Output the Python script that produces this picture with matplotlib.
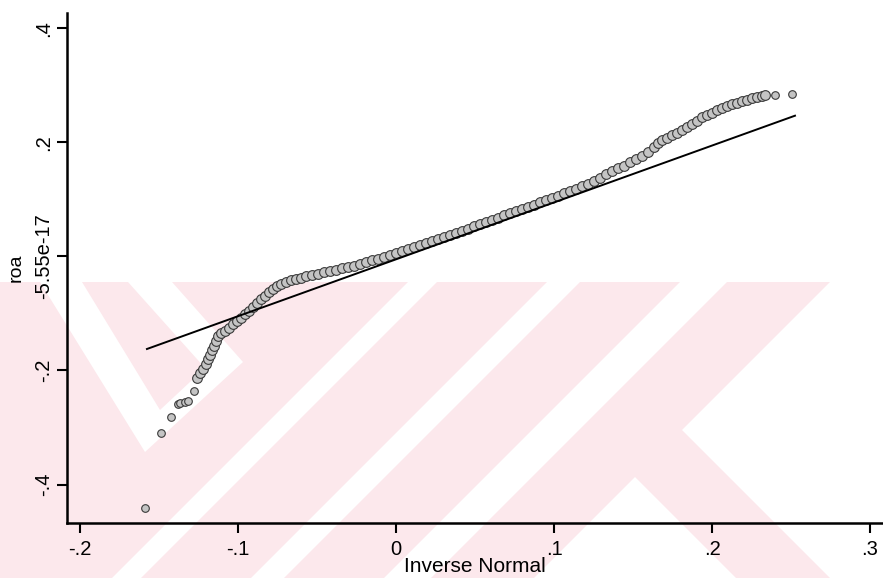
import matplotlib
matplotlib.use('Agg')
import matplotlib.pyplot as plt
from matplotlib.patches import Polygon

plt.rcParams['font.family'] = ['Liberation Sans', 'DejaVu Sans']

# lower tail, single points (inverse normal, roa)
tail_x = [-0.1589, -0.1487, -0.1426, -0.1382, -0.1367, -0.1335, -0.1315, -0.1277]
tail_y = [-0.4415, -0.3101, -0.2810, -0.2592, -0.2575, -0.2547, -0.2529, -0.2354]

# dense band of quantiles
band_x = [-0.1259, -0.1241, -0.1222, -0.1203, -0.1190, -0.1177, -0.1165, -0.1152, -0.1139, -0.1127,
          -0.1108, -0.1082, -0.1057, -0.1032, -0.1006, -0.0981, -0.0956, -0.0930, -0.0905, -0.0880,
          -0.0854, -0.0829, -0.0804, -0.0778, -0.0753, -0.0728, -0.0696, -0.0665, -0.0633, -0.0601,
          -0.0570, -0.0532, -0.0494, -0.0456, -0.0418, -0.0380, -0.0342, -0.0304, -0.0266, -0.0228,
          -0.0190, -0.0152, -0.0114, -0.0076, -0.0038, 0.0000, 0.0038, 0.0076, 0.0114, 0.0152,
          0.0190, 0.0228, 0.0266, 0.0304, 0.0342, 0.0380, 0.0418, 0.0456, 0.0494, 0.0532,
          0.0570, 0.0608, 0.0646, 0.0684, 0.0722, 0.0759, 0.0797, 0.0835, 0.0873, 0.0911,
          0.0949, 0.0987, 0.1025, 0.1063, 0.1101, 0.1139, 0.1177, 0.1215, 0.1253,
          0.1291, 0.1329, 0.1367, 0.1405, 0.1443, 0.1481, 0.1519, 0.1557, 0.1595, 0.1633,
          0.1658, 0.1684, 0.1715, 0.1747, 0.1778, 0.1810, 0.1842, 0.1873, 0.1905, 0.1937,
          0.1968, 0.2000, 0.2032, 0.2063, 0.2095, 0.2127, 0.2158, 0.2190, 0.2222, 0.2253,
          0.2285, 0.2316, 0.2335]
band_y = [-0.2130, -0.2042, -0.1974, -0.1886, -0.1798, -0.1728, -0.1641, -0.1571, -0.1483, -0.1395,
          -0.1343, -0.1308, -0.1255, -0.1185, -0.1132, -0.1080, -0.1010, -0.0957, -0.0887, -0.0817,
          -0.0747, -0.0694, -0.0624, -0.0571, -0.0519, -0.0484, -0.0449, -0.0414, -0.0396, -0.0379,
          -0.0352, -0.0326, -0.0309, -0.0282, -0.0256, -0.0230, -0.0203, -0.0186, -0.0160, -0.0133,
          -0.0098, -0.0072, -0.0037, -0.0011, 0.0025, 0.0060, 0.0086, 0.0121, 0.0156, 0.0200,
          0.0235, 0.0270, 0.0305, 0.0340, 0.0375, 0.0410, 0.0445, 0.0480, 0.0524, 0.0559,
          0.0603, 0.0638, 0.0673, 0.0717, 0.0761, 0.0796, 0.0831, 0.0866, 0.0901, 0.0945,
          0.0989, 0.1024, 0.1059, 0.1103, 0.1147, 0.1182, 0.1226, 0.1270, 0.1314,
          0.1378, 0.1436, 0.1488, 0.1541, 0.1588, 0.1655, 0.1707, 0.1760, 0.1821, 0.1909,
          0.1979, 0.2032, 0.2075, 0.2119, 0.2163, 0.2216, 0.2268, 0.2321, 0.2373, 0.2435,
          0.2479, 0.2522, 0.2566, 0.2601, 0.2631, 0.2663, 0.2689, 0.2719, 0.2747, 0.2773,
          0.2791, 0.2812, 0.2829]

# upper tail, single points
top_x = [0.2399, 0.2506]
top_y = [0.2829, 0.2847]

# reference line
line_x = [-0.1576, 0.2525]
line_y = [-0.1623, 0.2466]

xticks = [-0.2, -0.1, 0, 0.1, 0.2, 0.3]
xtick_labels = ['-.2', '-.1', '0', '.1', '.2', '.3']
yticks = [-0.4, -0.2, 0, 0.2, 0.4]
ytick_labels = ['-.4', '-.2', '-5.55e-17', '.2', '.4']

W, H = 883, 578
fig = plt.figure(figsize=(W / 100, H / 100), dpi=100)
fig.patch.set_facecolor('white')


def to_fig(pts):
    return [(x / W, 1 - y / H) for x, y in pts]


def patch(pts, color):
    fig.add_artist(Polygon(to_fig(pts), closed=True, facecolor=color,
                           edgecolor='none', zorder=0))


# faint watermark of the scanned page (pixel outline, decoration only)
pink = '#fce8ec'
white = 'white'
patch([(0, 282), (830, 282), (682, 430), (830, 578), (0, 578)], pink)
for a, b in [(408, 437), (547, 580), (680, 727)]:
    patch([(a, 282), (b, 282), (b - 296, 578), (a - 296, 578)], white)
patch([(635, 477), (736, 578), (534, 578)], white)
patch([(40, 282), (172, 282), (243, 362), (145, 452)], white)
patch([(82, 282), (128, 282), (205, 368), (160, 410)], pink)

ax = fig.add_axes([67 / W, 1 - 523 / H, (W - 67) / W, (523 - 13) / H])
ax.patch.set_alpha(0)

mk = dict(marker='o', linestyle='none', markerfacecolor='#c4c4c4',
          markeredgecolor='#3a3a3a', markeredgewidth=0.8)
ax.plot(tail_x, tail_y, markersize=5.5, **mk)
ax.plot(band_x, band_y, markersize=7.0, **mk)
ax.plot(top_x, top_y, markersize=5.5, **mk)
ax.plot(line_x, line_y, color='black', linewidth=1.4, zorder=3)

ax.set_xlim(-0.2082, 0.3082)
ax.set_ylim(-0.4673, 0.4266)
ax.set_xticks(xticks)
ax.set_xticklabels(xtick_labels)
ax.set_yticks(yticks)
ax.set_yticklabels(ytick_labels, rotation=90, va='center')

for side in ['top', 'right']:
    ax.spines[side].set_visible(False)
for side in ['left', 'bottom']:
    ax.spines[side].set_linewidth(1.8)

ax.tick_params(axis='both', direction='out', length=7, width=1.5, labelsize=14.5)
ax.tick_params(axis='x', pad=5)
ax.tick_params(axis='y', pad=3)

ax.set_xlabel('Inverse Normal', fontsize=15, labelpad=-1)
ax.set_ylabel('roa', fontsize=14)
ax.yaxis.set_label_coords(-0.052, 0.5)

fig.savefig('out.png', dpi=100)
